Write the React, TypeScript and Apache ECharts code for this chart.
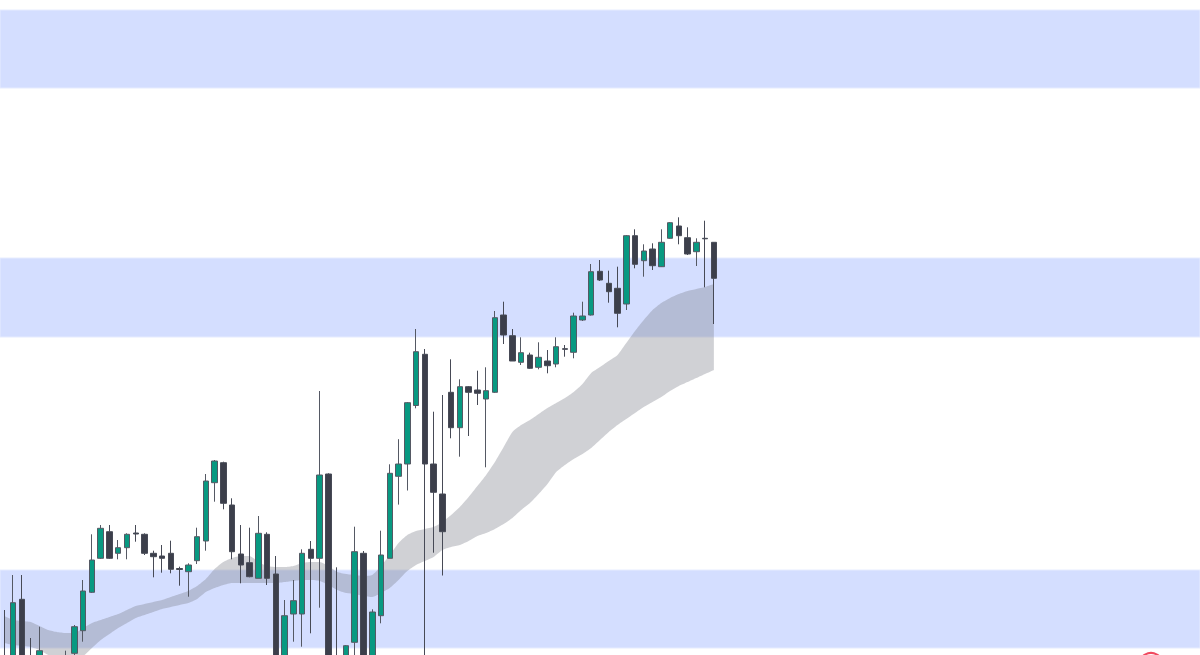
import React, { useEffect, useRef } from "react";
import * as echarts from "echarts";

// [open, close, low, high]
const candles: number[][] = [
  [99.2, 98.0, 97.2, 104.5],
  [98.5, 105.23, 97.8, 108.0],
  [105.57, 98.8, 98.2, 108.0],
  [99.3, 97.9, 97.0, 101.7],
  [98.2, 100.43, 97.6, 102.83],
  [98.4, 99.2, 97.9, 99.6],
  [99.4, 98.7, 98.2, 99.7],
  [98.9, 99.6, 98.5, 100.43],
  [100.17, 102.83, 99.7, 103.0],
  [102.43, 106.4, 101.33, 107.5],
  [106.27, 109.5, 106.2, 112.07],
  [109.67, 112.67, 109.6, 113.0],
  [112.33, 109.67, 109.6, 113.0],
  [110.17, 110.73, 109.57, 111.5],
  [110.73, 112.07, 109.57, 112.17],
  [112.2, 112.1, 111.33, 113.0],
  [112.07, 110.17, 110.0, 112.17],
  [110.17, 109.83, 107.77, 110.43],
  [109.9, 109.67, 108.23, 111.0],
  [110.17, 108.57, 108.17, 111.43],
  [108.65, 108.55, 106.93, 108.83],
  [108.33, 109.0, 105.83, 109.17],
  [109.43, 111.83, 109.1, 112.73],
  [111.4, 117.4, 110.43, 118.1],
  [117.23, 119.4, 115.33, 119.5],
  [119.23, 115.17, 114.57, 119.33],
  [115.0, 110.33, 109.57, 115.67],
  [110.1, 109.0, 107.17, 113.0],
  [109.23, 107.83, 107.77, 112.73],
  [107.67, 112.17, 107.67, 113.9],
  [112.07, 107.67, 107.0, 112.27],
  [108.1, 97.5, 96.8, 109.9],
  [98.0, 103.93, 97.4, 105.5],
  [104.1, 105.43, 101.33, 107.5],
  [104.1, 110.17, 100.83, 110.57],
  [110.57, 109.67, 102.17, 111.4],
  [109.67, 118.0, 104.73, 126.4],
  [118.1, 98.5, 97.8, 118.17],
  [99.0, 97.3, 96.5, 108.77],
  [97.8, 100.93, 97.0, 101.0],
  [101.27, 110.33, 99.0, 112.83],
  [110.17, 98.8, 98.0, 110.4],
  [99.2, 104.3, 98.5, 104.57],
  [103.93, 110.0, 103.17, 112.43],
  [109.67, 118.17, 109.67, 119.07],
  [117.87, 119.1, 115.04, 121.58],
  [119.1, 125.23, 116.45, 125.3],
  [124.95, 130.33, 124.67, 132.6],
  [130.07, 119.1, 99.0, 130.6],
  [119.1, 116.27, 110.23, 124.33],
  [116.1, 112.33, 107.95, 126.0],
  [126.27, 122.73, 121.67, 129.57],
  [122.73, 126.83, 119.83, 127.57],
  [126.83, 126.27, 121.9, 126.9],
  [126.5, 126.17, 125.0, 128.43],
  [125.6, 126.43, 118.77, 128.77],
  [126.27, 133.73, 126.2, 134.4],
  [134.0, 132.0, 131.1, 135.33],
  [131.93, 129.4, 129.4, 132.6],
  [129.27, 130.23, 129.0, 131.77],
  [130.0, 128.67, 128.6, 130.23],
  [128.77, 129.77, 128.57, 131.27],
  [129.4, 128.93, 128.17, 130.5],
  [129.1, 130.83, 128.77, 131.77],
  [130.63, 130.57, 129.83, 131.0],
  [130.27, 133.9, 129.67, 134.23],
  [133.5, 133.9, 133.4, 135.33],
  [134.0, 138.33, 133.95, 139.1],
  [138.37, 137.5, 137.4, 139.5],
  [137.17, 136.33, 135.23, 138.43],
  [136.67, 134.17, 132.77, 138.83],
  [135.1, 141.93, 134.5, 142.0],
  [141.93, 139.07, 138.67, 142.57],
  [139.43, 140.4, 137.83, 141.07],
  [140.6, 138.93, 138.5, 141.17],
  [138.83, 141.27, 138.8, 142.57],
  [141.67, 143.23, 141.62, 143.3],
  [142.9, 141.93, 141.07, 143.77],
  [141.73, 140.1, 140.0, 142.77],
  [140.33, 141.27, 138.9, 141.67],
  [141.67, 141.62, 136.77, 143.43],
  [141.27, 137.67, 133.1, 141.3],
];

const maFast: number[] = [
  103.9, 103.5, 103.4, 103.3, 102.9, 102.5, 102.3, 102.2, 102.2, 102.7,
  103.2, 103.5, 103.8, 104.1, 104.5, 104.9, 105.1, 105.3, 105.5, 105.8,
  106.1, 106.4, 106.9, 107.6, 108.6, 109.3, 109.7, 109.9, 109.9, 109.3,
  108.9, 108.8, 108.8, 108.9, 109.2, 109.3, 109.3, 108.9, 108.3, 108.1,
  108.0, 107.9, 108.0, 108.9, 110.0, 111.2, 112.0, 112.4, 112.6, 112.8,
  113.3, 114.0, 114.8, 115.8, 116.9, 118.0, 119.3, 120.8, 122.3, 123.0,
  123.5, 124.1, 124.7, 125.2, 125.7, 126.3, 127.1, 128.2, 128.8, 129.4,
  130.0, 131.2, 132.4, 133.5, 134.5, 135.2, 135.7, 136.1, 136.4, 136.6,
  136.8, 137.1,
];

const maSlow: number[] = [
  101.2, 101.0, 100.9, 100.8, 100.5, 100.0, 99.6, 99.5, 99.6, 99.9,
  100.7, 101.5, 102.1, 102.7, 103.2, 103.7, 104.0, 104.3, 104.6, 104.8,
  105.0, 105.2, 105.6, 106.3, 106.7, 107.0, 107.2, 107.2, 107.2, 107.2,
  107.2, 107.2, 107.3, 107.4, 107.5, 107.5, 107.4, 107.0, 106.5, 106.2,
  106.1, 105.9, 105.8, 106.2, 106.7, 107.5, 108.4, 109.0, 109.4, 109.8,
  110.5, 110.8, 111.0, 111.4, 111.9, 112.2, 112.6, 113.1, 113.7, 114.5,
  115.2, 116.1, 117.1, 118.3, 119.0, 119.6, 120.1, 120.7, 121.5, 122.3,
  123.0, 123.6, 124.2, 124.8, 125.3, 125.8, 126.4, 126.9, 127.3, 127.7,
  128.1, 128.5,
];

// price zones [top, bottom]
const zones: number[][] = [
  [164.5, 156.7],
  [139.7, 131.8],
  [108.5, 100.7],
];

const TOTAL_SLOTS = 137;
const categories: string[] = Array.from({ length: TOTAL_SLOTS }, (_, i) => `D${i + 1}`);

const PRICE_MIN = 100;
const PRICE_MAX = 165.5;

export default function App() {
  const ref = useRef<HTMLDivElement>(null);

  useEffect(() => {
    if (!ref.current) return;
    const chart = echarts.init(ref.current, undefined, { renderer: "svg" });
    const lower = maFast.map((v, i) => Math.min(v, maSlow[i]));
    const diff = maFast.map((v, i) => Math.abs(v - maSlow[i]));

    chart.setOption({
      animation: false,
      backgroundColor: "#ffffff",
      grid: { left: 0, right: 0, top: 0, bottom: 0 },
      xAxis: {
        type: "category",
        data: categories,
        boundaryGap: true,
        show: false,
      },
      yAxis: {
        type: "value",
        min: PRICE_MIN,
        max: PRICE_MAX,
        show: false,
        splitLine: { show: false },
      },
      series: [
        {
          name: "zones",
          type: "line",
          data: [],
          silent: true,
          z: 1,
          markArea: {
            silent: true,
            itemStyle: { color: "#d4deff", borderColor: "#e6ecff", borderWidth: 1 },
            data: zones.map((z) => [{ yAxis: z[0] }, { yAxis: z[1] }]),
          },
        },
        {
          name: "maBase",
          type: "line",
          data: lower,
          stack: "ribbon",
          symbol: "none",
          smooth: 0.2,
          lineStyle: { width: 0, opacity: 0 },
          z: 2,
          silent: true,
        },
        {
          name: "ribbon",
          type: "line",
          data: diff,
          stack: "ribbon",
          symbol: "none",
          smooth: 0.2,
          lineStyle: { width: 0, opacity: 0 },
          areaStyle: { color: "rgba(125,128,138,0.36)", opacity: 1 },
          z: 2,
          silent: true,
        },
        {
          name: "price",
          type: "candlestick",
          data: candles,
          barWidth: 6,
          clip: true,
          z: 3,
          itemStyle: {
            color: "#089981",
            color0: "#3c3f4b",
            borderColor: "#555964",
            borderColor0: "#474a56",
            borderWidth: 1,
          },
        },
      ],
      graphic: [
        {
          type: "circle",
          shape: { cx: 1151, cy: 665, r: 12 },
          style: { fill: "none", stroke: "#f04a5f", lineWidth: 2 },
          silent: true,
          z: 10,
        },
      ],
    });

    return () => chart.dispose();
  }, []);

  return (
    <div
      ref={ref}
      style={{ position: "absolute", left: 0, top: 0, width: 1200, height: 655 }}
    />
  );
}
